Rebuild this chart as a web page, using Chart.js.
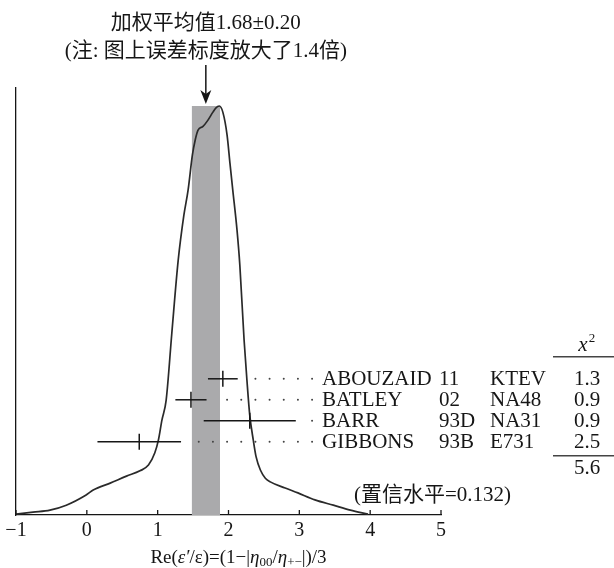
<!DOCTYPE html>
<html>
<head>
<meta charset="utf-8">
<script src="https://cdn.jsdelivr.net/npm/chart.js@4/dist/chart.umd.min.js"></script>
<style>
  html, body { margin: 0; padding: 0; background: #fff; }
</style>
</head>
<body>
<canvas id="ideogram" width="614" height="568"></canvas>
<script>
'use strict';

// ideogram curve (arbitrary units, peak = 1)
var curveX = [-1.00, -0.76, -0.52, -0.29, -0.01, 0.09, 0.33, 0.56, 0.75, 0.87, 0.96, 1.01, 1.06, 1.12,
              1.20, 1.29, 1.37, 1.43, 1.49, 1.53, 1.57, 1.64, 1.70, 1.78, 1.82, 1.87, 1.92, 1.98,
              2.02, 2.06, 2.12, 2.16, 2.22, 2.26, 2.30, 2.35, 2.39, 2.45, 2.52, 2.59, 2.80, 2.98,
              3.22, 3.48, 3.72, 3.97];
var curveY = [0.002, 0.007, 0.012, 0.024, 0.049, 0.061, 0.078, 0.095, 0.108, 0.122, 0.152, 0.183, 0.232, 0.281,
              0.445, 0.623, 0.733, 0.795, 0.880, 0.917, 0.941, 0.950, 0.963, 0.985, 0.995, 1.000, 0.985, 0.929,
              0.861, 0.795, 0.697, 0.611, 0.428, 0.330, 0.244, 0.183, 0.142, 0.110, 0.090, 0.081, 0.066, 0.054,
              0.037, 0.024, 0.012, 0.002];

// measurements
var names       = ['ABOUZAID', 'BATLEY', 'BARR', 'GIBBONS'];
var years       = ['11', '02', '93D', '93B'];
var experiments = ['KTEV', 'NA48', 'NA31', 'E731'];
var values      = [1.92, 1.47, 2.30, 0.74];
var errors      = [0.21, 0.22, 0.65, 0.59];
var chi2        = ['1.3', '0.9', '0.9', '2.5'];
var chi2Total   = '5.6';

var mean = 1.68;
var meanErr = 0.20;
var scaleFactor = '1.4';
var confidence = '0.132';
var xTicks = [-1, 0, 1, 2, 3, 4, 5];

var SERIF = "'Liberation Serif', 'Noto Sans CJK SC', serif";
var INK = '#161616';

// rows of the measurement table, in y units
var ROW_TOP = 0.333;
var ROW_STEP = 0.0513;
function rowValue(i) { return ROW_TOP - i * ROW_STEP; }

var peak = Math.max.apply(null, curveY);

var datasets = [];

// error bars
values.forEach(function (v, i) {
  datasets.push({
    data: [{x: v - errors[i], y: rowValue(i)}, {x: v + errors[i], y: rowValue(i)}],
    showLine: true, borderColor: INK, borderWidth: 1.5, pointRadius: 0, order: 1
  });
});

// central values: short vertical strokes
datasets.push({
  data: values.map(function (v, i) { return {x: v, y: rowValue(i)}; }),
  pointStyle: 'line', rotation: 90, pointRadius: 8,
  borderColor: INK, backgroundColor: INK, borderWidth: 1.5, order: 0
});

// the curve itself
datasets.push({
  data: curveX.map(function (x, i) { return {x: x, y: curveY[i]}; }),
  showLine: true, borderColor: '#2a2a2a', borderWidth: 1.7, pointRadius: 0,
  cubicInterpolationMode: 'monotone', fill: false, order: 2
});

// weighted average band
datasets.push({
  data: [{x: mean - meanErr, y: 0}, {x: mean - meanErr, y: peak},
         {x: mean + meanErr, y: peak}, {x: mean + meanErr, y: 0}],
  showLine: true, borderWidth: 0, borderColor: 'rgba(0,0,0,0)', backgroundColor: '#aaaaac',
  fill: 'origin', pointRadius: 0, tension: 0, order: 3
});

function drawRuns(ctx, runs, cx, cy, size) {
  // measure first so the whole line can be centred
  var total = 0;
  runs.forEach(function (r) {
    var s = r.sub ? size * 0.68 : size;
    ctx.font = (r.italic ? 'italic ' : '') + s + 'px ' + SERIF;
    r.w = ctx.measureText(r.t).width;
    total += r.w;
  });
  var x = cx - total / 2;
  ctx.textAlign = 'left';
  ctx.textBaseline = 'middle';
  runs.forEach(function (r) {
    var s = r.sub ? size * 0.68 : size;
    ctx.font = (r.italic ? 'italic ' : '') + s + 'px ' + SERIF;
    ctx.fillText(r.t, x, cy + (r.sub ? size * 0.25 : 0));
    x += r.w;
  });
}

var extras = {
  id: 'extras',
  afterDraw: function (chart) {
    var ctx = chart.ctx;
    var xs = chart.scales.x;
    var ys = chart.scales.y;
    var area = chart.chartArea;
    ctx.save();

    // ticks point up into the plot
    ctx.strokeStyle = INK;
    ctx.lineWidth = 1.3;
    xTicks.forEach(function (t) {
      var px = xs.getPixelForValue(t);
      ctx.beginPath();
      ctx.moveTo(px, area.bottom);
      ctx.lineTo(px, area.bottom - 5);
      ctx.stroke();
    });

    // dotted leaders, laid out from the right so the dots line up
    var step = xs.getPixelForValue(0.2) - xs.getPixelForValue(0);
    var leadStart = xs.getPixelForValue(3.18);
    ctx.strokeStyle = '#444';
    ctx.lineWidth = 2;
    ctx.lineCap = 'round';
    ctx.setLineDash([0, step]);
    values.forEach(function (v, i) {
      var py = ys.getPixelForValue(rowValue(i));
      var end = xs.getPixelForValue(v + errors[i]) + 12;
      ctx.beginPath();
      ctx.moveTo(leadStart, py);
      ctx.lineTo(end, py);
      ctx.stroke();
    });
    ctx.setLineDash([]);
    ctx.lineCap = 'butt';

    // table text
    ctx.fillStyle = INK;
    ctx.textBaseline = 'middle';
    ctx.font = '21px ' + SERIF;
    names.forEach(function (n, i) {
      var py = ys.getPixelForValue(rowValue(i)) + 1;
      ctx.textAlign = 'left';
      ctx.fillText(n, 322, py);
      ctx.fillText(years[i], 439, py);
      ctx.fillText(experiments[i], 490, py);
      ctx.textAlign = 'center';
      ctx.fillText(chi2[i], 587, py);
    });

    // chi-square header, rules and total
    var firstRow = ys.getPixelForValue(rowValue(0));
    var lastRow = ys.getPixelForValue(rowValue(names.length - 1));
    ctx.font = 'italic 21px ' + SERIF;
    ctx.textAlign = 'center';
    ctx.fillText('x', 583, firstRow - 33);
    ctx.font = '13px ' + SERIF;
    ctx.fillText('2', 592, firstRow - 40);
    ctx.strokeStyle = '#444';
    ctx.lineWidth = 1.6;
    ctx.beginPath();
    ctx.moveTo(553, firstRow - 22); ctx.lineTo(614, firstRow - 22);
    ctx.moveTo(553, lastRow + 14); ctx.lineTo(614, lastRow + 14);
    ctx.stroke();
    ctx.font = '21px ' + SERIF;
    ctx.fillText(chi2Total, 587, lastRow + 27);

    ctx.textAlign = 'left';
    ctx.fillText('(置信水平=' + confidence + ')', 354, area.bottom - 20);

    // title over the weighted mean, with arrow
    var mx = xs.getPixelForValue(mean);
    ctx.textAlign = 'center';
    ctx.fillText('加权平均值' + mean.toFixed(2) + '±' + meanErr.toFixed(2), mx, 23);
    ctx.fillText('(注: 图上误差标度放大了' + scaleFactor + '倍)', mx, 51);

    var tip = ys.getPixelForValue(peak) - 2;
    ctx.strokeStyle = INK;
    ctx.lineWidth = 1.5;
    ctx.beginPath();
    ctx.moveTo(mx, 65);
    ctx.lineTo(mx, tip - 8);
    ctx.stroke();
    ctx.beginPath();
    ctx.moveTo(mx, tip);
    ctx.lineTo(mx - 5.5, tip - 14);
    ctx.lineTo(mx, tip - 10);
    ctx.lineTo(mx + 5.5, tip - 14);
    ctx.closePath();
    ctx.fill();

    // x axis title with italic symbols and subscripts
    drawRuns(ctx, [
      {t: 'Re('}, {t: 'ε′', italic: true}, {t: '/ε)=(1−|'},
      {t: 'η', italic: true}, {t: '00', sub: true}, {t: '/'},
      {t: 'η', italic: true}, {t: '+−', sub: true}, {t: '|)/3'}
    ], (area.left + area.right) / 2 + 10, 558, 19);

    ctx.restore();
  }
};

new Chart(document.getElementById('ideogram'), {
  type: 'scatter',
  data: {datasets: datasets},
  options: {
    responsive: false,
    animation: false,
    events: [],
    devicePixelRatio: 1,
    layout: {padding: {left: 16, right: 173, top: 88, bottom: 23}},
    plugins: {legend: {display: false}, tooltip: {enabled: false}, title: {display: false}},
    scales: {
      x: {
        type: 'linear', min: -1, max: 5,
        grid: {display: false, drawTicks: false},
        border: {display: true, color: INK, width: 1.3},
        ticks: {
          stepSize: 1, color: INK, padding: 4,
          font: {family: SERIF, size: 20},
          callback: function (v) { return v < 0 ? '−' + Math.abs(v) : String(v); }
        },
        // fixed axis height so the plot bottom lands where the original has it
        afterFit: function (scale) { scale.height = 30; }
      },
      y: {
        type: 'linear', min: 0, max: 1.044,
        grid: {display: false, drawTicks: false},
        border: {display: true, color: INK, width: 1.3},
        ticks: {display: false}
      }
    }
  },
  plugins: [extras]
});
</script>
</body>
</html>
